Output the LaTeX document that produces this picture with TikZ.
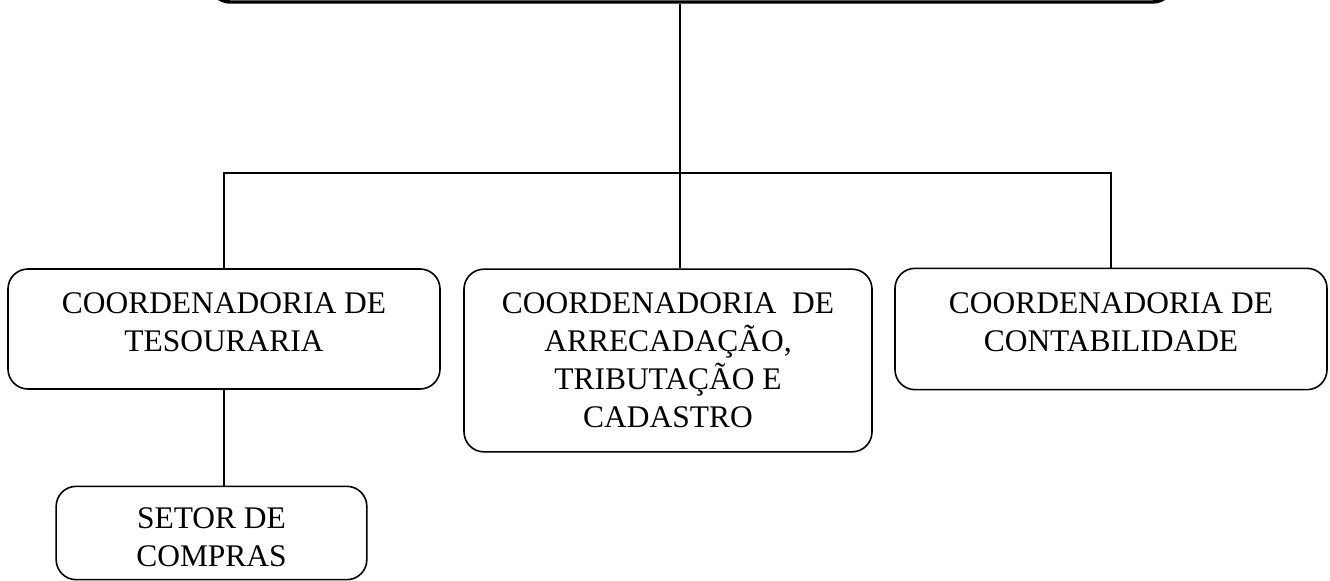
\documentclass[tikz,border=0pt]{standalone}
\usepackage{fontspec}
\setmainfont{Liberation Serif}
\usepackage{tikz}
\usetikzlibrary{positioning}

\begin{document}
\begin{tikzpicture}[
    x=0.75pt,y=-0.75pt,
    unidade/.style={rectangle,draw,line width=1.2pt,rounded corners=15pt,align=center,
      font=\fontsize{23.6}{28.5}\selectfont,inner sep=0pt},
    ligacao/.style={draw,line width=1.3pt}
    ]
    \clip (0,0) rectangle (1330,581);
    \node [unidade,line width=2.6pt,minimum width=722pt,minimum height=60pt] (dir) at (691.5,-38) {};
    \node [unidade,minimum width=324pt,minimum height=90pt,text depth=10.5pt] (tes) at (224,329)
      {COORDENADORIA DE\\TESOURARIA};
    \node [unidade,minimum width=306pt,minimum height=137pt] (arr) at (668,360.5)
      {COORDENADORIA~ DE\\ARRECADAÇÃO,\\TRIBUTAÇÃO E\\CADASTRO};
    \node [unidade,minimum width=324pt,minimum height=91pt,text depth=11pt] (cont) at (1111,329)
      {COORDENADORIA DE\\CONTABILIDADE};
    \node [unidade,minimum width=233pt,minimum height=70pt,text height=50.5pt] (comp) at (211.5,533)
      {SETOR DE\\COMPRAS};
    \coordinate (junta) at (680,173);
    \draw [ligacao] (dir.south -| junta) -- (arr.north -| junta);
    \draw [ligacao] (tes.north) -- (tes.north |- junta) -- (cont.north |- junta) -- (cont.north);
    \draw [ligacao] (tes.south) -- (tes.south |- comp.north);
  \end{tikzpicture}
\end{document}
